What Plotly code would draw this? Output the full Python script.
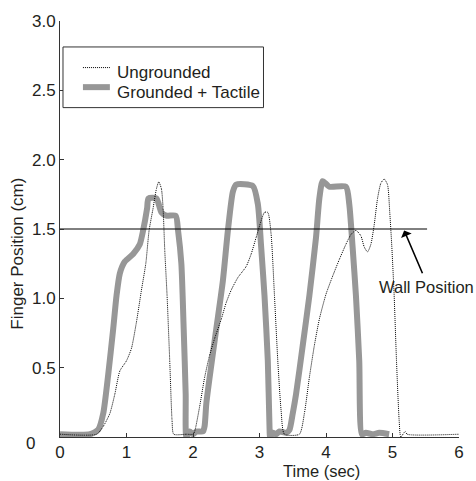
import plotly.graph_objects as go

# ---- data ----
time_ungrounded = [0, 0.55, 0.65, 0.75, 0.825, 0.9, 1.0, 1.075, 1.15, 1.225, 1.29, 1.34, 1.4, 1.45,
                   1.485, 1.525, 1.55, 1.575, 1.61, 1.65, 1.685, 1.71, 1.9, 2.0, 2.025, 2.1, 2.175,
                   2.25, 2.325, 2.425, 2.5, 2.575, 2.675, 2.8, 2.875, 2.95, 3.025, 3.075, 3.125,
                   3.175, 3.225, 3.275, 3.325, 3.375, 3.6, 3.675, 3.75, 3.825, 3.9, 4.0, 4.1, 4.2,
                   4.3, 4.375, 4.45, 4.525, 4.575, 4.625, 4.675, 4.725, 4.775, 4.825, 4.875, 4.925,
                   4.96, 4.99, 5.025, 5.06, 5.1, 5.125, 5.19, 5.22, 6.0]
pos_ungrounded = [0.02, 0.02, 0.076, 0.17, 0.31, 0.476, 0.55, 0.64, 0.83, 1.06, 1.25, 1.49, 1.65, 1.79,
                  1.84, 1.79, 1.65, 1.35, 1.02, 0.55, 0.12, 0.02, 0.02, 0.02, 0.04, 0.22, 0.43,
                  0.59, 0.71, 0.85, 0.97, 1.06, 1.15, 1.23, 1.32, 1.44, 1.56, 1.62, 1.62,
                  1.46, 1.02, 0.55, 0.19, 0.02, 0.02, 0.17, 0.43, 0.66, 0.85, 1.03, 1.16, 1.28,
                  1.39, 1.46, 1.49, 1.45, 1.37, 1.335, 1.39, 1.53, 1.72, 1.83, 1.86, 1.82,
                  1.61, 1.37, 1.02, 0.55, 0.12, 0.0, 0.04, 0.02, 0.02]

time_grounded = [0, 0.45, 0.575, 0.65, 0.725, 0.8, 0.85, 0.9, 0.975, 1.1, 1.2, 1.25, 1.31, 1.33,
                 1.45, 1.525, 1.6, 1.74, 1.775, 1.825, 1.86, 1.89, 1.9, 1.95, 2.0, 2.05, 2.15,
                 2.175, 2.2, 2.25, 2.35, 2.45, 2.525, 2.6, 2.65, 2.9, 2.975, 3.025, 3.075, 3.125,
                 3.15, 3.16, 3.2, 3.25, 3.3, 3.4, 3.45, 3.5, 3.55, 3.65, 3.75, 3.85, 3.9, 3.95,
                 4.05, 4.3, 4.35, 4.4, 4.45, 4.5, 4.54, 4.6, 4.7, 4.8, 4.95]
pos_grounded = [0.02, 0.02, 0.053, 0.17, 0.45, 0.78, 1.02, 1.18, 1.265, 1.32, 1.39, 1.49, 1.65, 1.72,
                1.72, 1.62, 1.596, 1.596, 1.49, 1.25, 0.78, 0.31, 0.0, 0.04, 0.02, 0.04, 0.04,
                0.08, 0.24, 0.43, 0.78, 1.13, 1.49, 1.77, 1.82, 1.81, 1.68, 1.37, 1.02, 0.55,
                0.08, 0.0, 0.03, 0.02, 0.04, 0.03, 0.05, 0.17, 0.31, 0.66, 1.02, 1.44, 1.72, 1.845,
                1.805, 1.805, 1.68, 1.37, 1.02, 0.55, 0.02, 0.03, 0.02, 0.03, 0.02]

wall_position = 1.5
wall_end_time = 5.52
x_ticks = [0, 1, 2, 3, 4, 5, 6]
y_ticks = [0, 0.5, 1.0, 1.5, 2.0, 2.5, 3.0]
y_tick_labels = ["0", "0.5", "1.0", "1.5", "2.0", "2.5", "3.0"]

FONT = "Liberation Sans, Arial, Helvetica, sans-serif"
TXT = "#231f20"
AX = "#333333"

series = [
    dict(name="Grounded + Tactile", x=time_grounded, y=pos_grounded,
         line=dict(color="#979797", width=6, shape="spline", smoothing=0.6)),
    dict(name="Ungrounded", x=time_ungrounded, y=pos_ungrounded,
         line=dict(color="black", width=1, dash="1px,1px", shape="spline", smoothing=0.6)),
]

fig = go.Figure()
for s in series:
    fig.add_trace(go.Scatter(x=s["x"], y=s["y"], mode="lines", name=s["name"],
                             line=s["line"], showlegend=False))
fig.add_trace(go.Scatter(x=[0, wall_end_time], y=[wall_position, wall_position], mode="lines",
                         line=dict(color="black", width=1), showlegend=False, hoverinfo="skip"))

axis_common = dict(showline=True, linecolor=AX, linewidth=1, ticks="inside", ticklen=4,
                   tickcolor=AX, showgrid=False, zeroline=False,
                   tickfont=dict(family=FONT, size=17, color=TXT))

# the original draws its y "0" label a little below the axis corner
y_axis_text = ["" if v == 0 else t for v, t in zip(y_ticks, y_tick_labels)]

# ---- boxed legend, drawn from the series definitions ----
shapes = [dict(type="rect", xref="paper", yref="paper", x0=0.0075, x1=0.51, y0=0.7918, y1=0.9376,
               line=dict(color=AX, width=1), fillcolor="white", layer="above")]
annotations = []
legend_rows = [(series[1], 0.888, 0.8765), (series[0], 0.841, 0.827)]
for s, ly, ty in legend_rows:
    ln = dict(color=s["line"]["color"], width=s["line"]["width"])
    if "dash" in s["line"]:
        ln["dash"] = s["line"]["dash"]
    shapes.append(dict(type="line", xref="paper", yref="paper", x0=0.0575, x1=0.125,
                       y0=ly, y1=ly, line=ln, layer="above"))
    annotations.append(dict(text=s["name"], xref="paper", yref="paper", x=0.1375, y=ty,
                            xanchor="left", yanchor="middle", showarrow=False,
                            font=dict(family=FONT, size=17, color=TXT)))

annotations += [
    dict(text=y_tick_labels[0], xref="paper", yref="paper", x=-0.0575, y=-0.0153,
         xanchor="right", yanchor="middle", showarrow=False,
         font=dict(family=FONT, size=17, color=TXT)),
    dict(text="Time (sec)", xref="x", yref="paper", x=3.93, y=-0.0824,
         xanchor="center", yanchor="middle", showarrow=False,
         font=dict(family=FONT, size=16.5, color=TXT)),
    dict(text="Finger Position (cm)", xref="paper", yref="paper", x=-0.1075, y=0.441,
         xanchor="center", yanchor="middle", textangle=-90, showarrow=False,
         font=dict(family=FONT, size=17, color=TXT)),
    dict(text="Wall Position", xref="x", yref="y", x=4.77, y=1.08,
         xanchor="left", yanchor="middle", showarrow=False,
         font=dict(family=FONT, size=16.5, color=TXT)),
    dict(text="", xref="x", yref="y", x=5.175, y=1.49, axref="x", ayref="y",
         ax=5.46, ay=1.17, showarrow=True, arrowhead=1, arrowsize=1.2,
         arrowwidth=1.6, arrowcolor="black", standoff=0),
]

fig.update_layout(
    width=476, height=481,
    margin=dict(l=60, r=16, t=12, b=44, pad=0),
    paper_bgcolor="white", plot_bgcolor="white",
    font=dict(family=FONT, size=17, color=TXT),
    xaxis=dict(range=[0, 6], tickvals=x_ticks, **axis_common),
    yaxis=dict(range=[0, 3], tickvals=y_ticks, ticktext=y_axis_text, **axis_common),
    showlegend=False,
    shapes=shapes,
    annotations=annotations,
)

fig.write_html("out.html")
